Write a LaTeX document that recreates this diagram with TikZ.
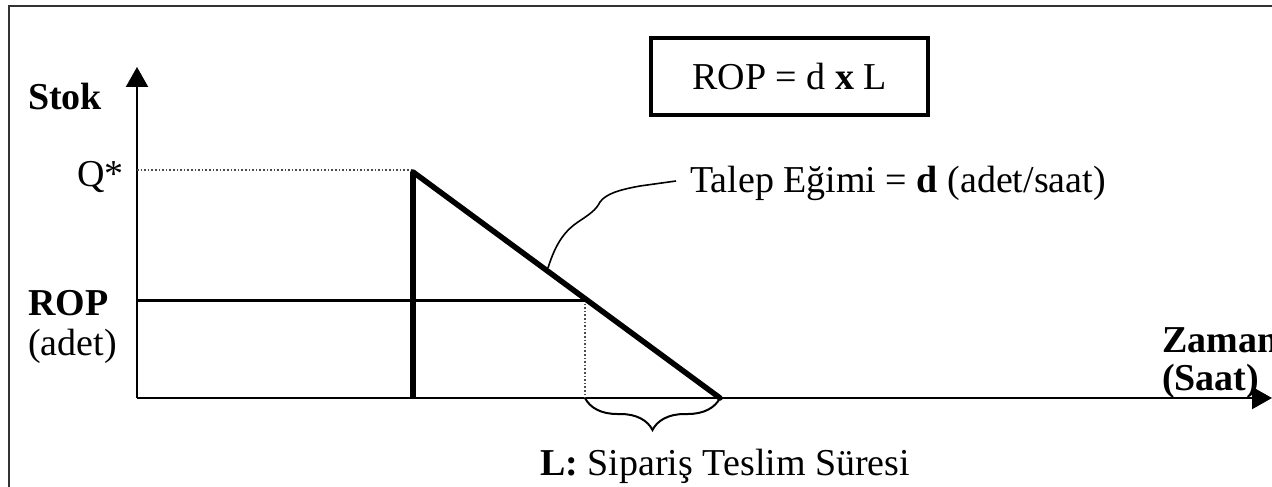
\documentclass[tikz,border=0pt]{standalone}
\usepackage{fontspec}
\setmainfont{Liberation Serif}
\usetikzlibrary{arrows.meta,decorations.pathreplacing}

\tikzset{
  axisline/.style={line width=2.3pt, -{Triangle[length=20pt,width=22pt]}},
  stockline/.style={line width=5.5pt},
  guide/.style={line width=1.6pt, dotted, black!70},
  lbl/.style={inner sep=0pt, font=\fontsize{38}{44}\selectfont}
}

\begin{document}
\begin{tikzpicture}[x=1pt, y=-1pt]
    \useasboundingbox (0,0) rectangle (1272,487);
    \clip (0,0) rectangle (1272,487);
    % Frame
    \draw[line width=2pt, black!80] (9,495) -- (9,6) -- (1280,6);

    % Points of the stock curve
    \coordinate (O) at (137,398);
    \coordinate (ytop) at (137,67);
    \coordinate (xend) at (1272,398);
    \coordinate (qstar) at (137,170);
    \coordinate (peak) at (413,172);
    \coordinate (base) at (413,398);
    \coordinate (zero) at (720,398);
    \coordinate (ropy) at (137,300);
    \coordinate (reorder) at (585,300);
    \coordinate (reorderx) at (585,398);

    % Axes
    \draw[axisline] (O) -- (ytop);
    \draw[axisline] (O) -- (xend);

    % Q* and lead time guides
    \draw[guide] (qstar) -- (qstar -| peak);
    \draw[guide] (reorder) -- (reorderx);

    % ROP level
    \draw[line width=3pt] (ropy) -- (reorder);

    % Stock: replenishment and demand
    \draw[stockline] (base) -- (peak);
    \draw[stockline, line cap=round] (peak) -- (zero);

    % Lead time brace
    \draw[line width=2pt, decorate, decoration={brace, mirror, amplitude=32pt}]
        (reorderx) -- (zero) coordinate[midway] (Lmid);

    % Formula box
    \node[lbl, draw, line width=3.5pt, minimum width=277pt, minimum height=77pt] (formula)
        at (789.5,76.5) {ROP = d \textbf{x} L};

    % Axis labels
    \node[lbl, anchor=base west] (stok) at (28,110) {\textbf{Stok}};
    \node[lbl, anchor=base east] (qlbl) at (124,186) {Q*};
    \node[lbl, anchor=base west] (roplbl) at (28,315) {\textbf{ROP}};
    \node[lbl, anchor=base west] (adet) at (28,355) {(adet)};
    \node[lbl, anchor=base west] (zaman) at (1162,352) {\textbf{Zaman}};
    \node[lbl, anchor=base west] (saat) at (1162,390) {\textbf{(Saat)}};

    % Slope label and its wavy pointer
    \node[lbl, anchor=base west] (talep) at (690,192) {Talep Eğimi = \textbf{d} (adet/saat)};
    \coordinate (slope) at (548,268);
    \coordinate (tip) at ([xshift=-14pt]talep.west |- 0,181);
    \draw[line width=1.6pt] (slope) .. controls (556,242) and (566,230) .. (578,222)
        .. controls (590,214) and (596,210) .. (600,202)
        .. controls (606,194) and (618,190) .. (640,186)
        -- (tip);

    % Lead time label
    \node[lbl, anchor=base west] (leadlbl) at (540,475) {\textbf{L:} Sipariş Teslim Süresi};
\end{tikzpicture}
\end{document}
